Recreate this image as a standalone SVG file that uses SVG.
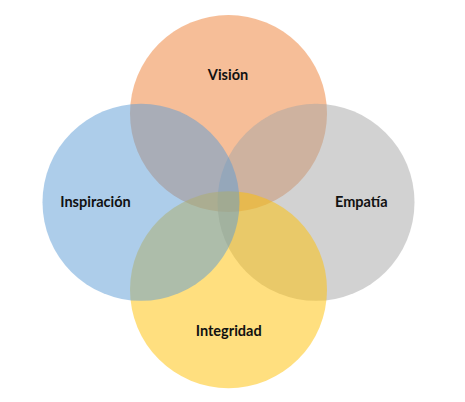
<svg xmlns="http://www.w3.org/2000/svg" width="465" height="402" viewBox="0 0 465 402">
<style>
.c{fill-opacity:0.5}
.t{font-family:Lato,"Open Sans","Liberation Sans",sans-serif;font-weight:bold;font-size:14.5px;fill:#111;text-anchor:middle}
</style>
<rect width="465" height="402" fill="#fff"/>
<g id="vision"><circle class="c" cx="228.5" cy="113.5" r="98.5" fill="#ED7D31"/></g>
<g id="empatia"><circle class="c" cx="316" cy="202.3" r="98.5" fill="#A5A5A5"/></g>
<g id="integridad"><circle class="c" cx="228.5" cy="289.7" r="98.5" fill="#FFC000"/></g>
<g id="inspiracion"><circle class="c" cx="141" cy="202.3" r="98.5" fill="#5B9BD5"/></g>
<g id="labels">
<text class="t" x="228" y="80">Visión</text>
<text class="t" x="95.5" y="207">Inspiración</text>
<text class="t" x="361.3" y="207">Empatía</text>
<text class="t" x="228.7" y="335.5">Integridad</text>
</g>
<g id="connectors"></g>
</svg>
